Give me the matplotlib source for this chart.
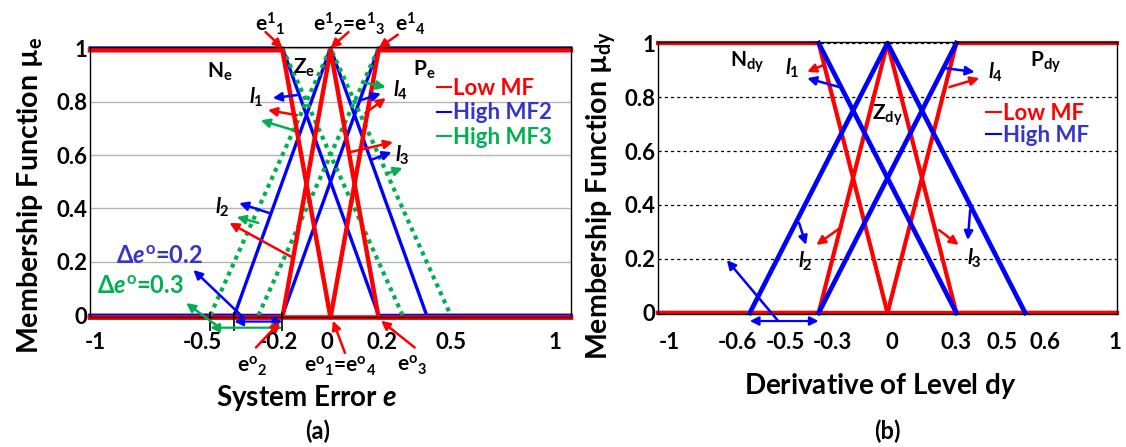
import matplotlib.pyplot as plt
from matplotlib.lines import Line2D
from matplotlib.transforms import ScaledTranslation

plt.rcParams['font.family'] = ['Lato', 'DejaVu Sans']
plt.rcParams['font.weight'] = 'bold'
plt.rcParams['axes.labelweight'] = 'bold'
plt.rcParams['mathtext.fontset'] = 'custom'
plt.rcParams['mathtext.rm'] = 'Lato:bold'
plt.rcParams['mathtext.it'] = 'Lato:bold:italic'
plt.rcParams['mathtext.bf'] = 'Lato:bold'

RED = '#FF0000'
BLUE = '#0000FF'
GREEN = '#00B050'
BLUE_TXT = '#3535C8'

# membership values at the breakpoints (N, Z, P shapes)
n_mu = [1, 1, 0, 0]
z_mu = [0, 0, 1, 0, 0]
p_mu = [0, 0, 1, 1]

# (a) system error e, breakpoints
e_low_N = [-1, -0.2, 0, 1]
e_low_Z = [-1, -0.2, 0, 0.2, 1]
e_low_P = [-1, 0, 0.2, 1]
e_high2_N = [-1, -0.2, 0.2, 1]
e_high2_Z = [-1, -0.4, 0, 0.4, 1]
e_high2_P = [-1, -0.2, 0.2, 1]
e_high3_N = [-1, -0.2, 0.3, 1]
e_high3_Z = [-1, -0.5, 0, 0.5, 1]
e_high3_P = [-1, -0.3, 0.2, 1]

# (b) derivative of level dy, breakpoints
dy_low_N = [-1, -0.3, 0, 1]
dy_low_Z = [-1, -0.3, 0, 0.3, 1]
dy_low_P = [-1, 0, 0.3, 1]
dy_high_N = [-1, -0.3, 0.3, 1]
dy_high_Z = [-1, -0.6, 0, 0.6, 1]
dy_high_P = [-1, -0.3, 0.3, 1]

y_ticks = [0, 0.2, 0.4, 0.6, 0.8, 1]
y_labels = ['0', '0.2', '0.4', '0.6', '0.8', '1']
e_ticks = [-1, -0.5, -0.2, 0, 0.2, 0.5, 1]
e_labels = ['-1', '-0.5', '-0.2', '0', '0.2', '0.5', '1']
dy_ticks = [-1, -0.6, -0.5, -0.3, 0, 0.3, 0.5, 0.6, 1]
dy_labels = ['-1', '-0.6', '-0.5', '-0.3', '0', '0.3', '0.5', '0.6', '1']
grid_x = [-0.5, 0, 0.5]

fig = plt.figure(figsize=(11.26, 4.47), dpi=100)
ax1 = fig.add_axes([90 / 1126, 1 - 317 / 447, 481 / 1126, 270 / 447])
ax2 = fig.add_axes([658 / 1126, 1 - 314 / 447, 459 / 1126, 272 / 447])


def arrow(ax, tail, head, color, style='-|>', lw=1.8):
    ax.annotate('', xy=head, xytext=tail, annotation_clip=False,
                arrowprops=dict(arrowstyle=style, color=color, lw=lw,
                                mutation_scale=13, shrinkA=0, shrinkB=0))


def label(ax, x, y, s, size=15, color='black'):
    ax.text(x, y, s, fontsize=size, color=color, fontweight='bold',
            ha='center', va='center')


def setup(ax, xticks, xlabels, ylim, grid_style, pad):
    ax.set_xlim(-1, 1)
    ax.set_ylim(*ylim)
    ax.set_xticks(xticks, xlabels, fontweight='bold')
    ax.set_xticks(grid_x, minor=True)
    ax.set_yticks(y_ticks, y_labels, fontweight='bold')
    ax.tick_params(which='both', length=0, labelsize=16)
    ax.tick_params(axis='x', pad=pad)
    ax.tick_params(axis='y', pad=2)
    ax.grid(axis='x', which='minor', **grid_style)
    ax.grid(axis='y', which='major', **grid_style)
    ax.set_axisbelow(True)
    for s in ax.spines.values():
        s.set_linewidth(1.0)


# ---------------- (a) ----------------
setup(ax1, e_ticks, e_labels, (-0.006, 1.004),
      dict(color='#b4b4b4', lw=1.0, ls='-'), 11)

# red drawn a touch lower, so the blue edge shows above it as in the original
red_shift = ax1.transData + ScaledTranslation(0, -0.022, fig.dpi_scale_trans)

ax1.plot(e_high2_N, n_mu, color=BLUE, lw=2.4, clip_on=False)
ax1.plot(e_high2_Z, z_mu, color=BLUE, lw=2.4, clip_on=False)
ax1.plot(e_high2_P, p_mu, color=BLUE, lw=2.4, clip_on=False)
# dotted High MF3: only the sloped parts show (flat parts sit under the others)
for xs, ys in [(e_high3_N, n_mu), (e_high3_Z, z_mu), (e_high3_P, p_mu)]:
    ax1.plot(xs[1:-1], ys[1:-1], color=GREEN, lw=3.0, ls=(0, (1, 1.1)),
             clip_on=False)
for xs, ys in [(e_low_N, n_mu), (e_low_Z, z_mu), (e_low_P, p_mu)]:
    ax1.plot(xs, ys, color=RED, lw=3.2, clip_on=False, transform=red_shift)

ax1.legend(handles=[Line2D([], [], color=RED, lw=1.5),
                    Line2D([], [], color=BLUE, lw=1.5),
                    Line2D([], [], color=GREEN, lw=1.5)],
           labels=['Low MF', 'High MF2', 'High MF3'],
           labelcolor=[RED, BLUE_TXT, GREEN], loc='upper left',
           bbox_to_anchor=(0.721, 0.885), frameon=False,
           prop=dict(size=16, weight='bold'),
           handlelength=0.65, handletextpad=0.1, labelspacing=0.15,
           borderpad=0, borderaxespad=0)

label(ax1, -0.46, 0.91, 'N$_\\mathrm{e}$')
label(ax1, -0.11, 0.925, 'Z$_\\mathrm{e}$')
label(ax1, 0.39, 0.92, 'P$_\\mathrm{e}$')

label(ax1, -0.25, 1.09, 'e$^{1}{}_{1}$')
label(ax1, 0.075, 1.09, 'e$^{1}{}_{2}$=e$^{1}{}_{3}$')
label(ax1, 0.33, 1.09, 'e$^{1}{}_{4}$')
arrow(ax1, (-0.27, 1.06), (e_low_N[1], 1), RED)
arrow(ax1, (0.075, 1.06), (e_low_Z[2], 1), RED)
arrow(ax1, (0.28, 1.05), (e_low_P[2], 1), RED)

label(ax1, -0.31, 0.815, '$l_{1}$')
arrow(ax1, (-0.14, 0.824), (-0.24, 0.813), BLUE)
arrow(ax1, (-0.14, 0.749), (-0.26, 0.768), RED)
arrow(ax1, (-0.155, 0.693), (-0.29, 0.73), GREEN)

label(ax1, 0.29, 0.843, '$l_{4}$')
arrow(ax1, (0.13, 0.873), (0.23, 0.854), GREEN)
arrow(ax1, (0.13, 0.806), (0.21, 0.83), BLUE)
arrow(ax1, (0.145, 0.757), (0.23, 0.813), RED)

label(ax1, 0.30, 0.60, '$l_{3}$')
arrow(ax1, (0.083, 0.611), (0.26, 0.648), RED)
arrow(ax1, (0.167, 0.581), (0.254, 0.611), BLUE)
arrow(ax1, (0.24, 0.532), (0.30, 0.551), GREEN)

label(ax1, -0.45, 0.406, '$l_{2}$')
arrow(ax1, (-0.255, 0.383), (-0.38, 0.42), BLUE)
arrow(ax1, (-0.30, 0.346), (-0.39, 0.368), GREEN)
arrow(ax1, (-0.155, 0.215), (-0.42, 0.346), RED)

label(ax1, -0.71, 0.22, '\u0394$e^{\\mathrm{o}}$=0.2', size=17, color=BLUE_TXT)
arrow(ax1, (-0.36, -0.01), (-0.57, 0.17), BLUE)
label(ax1, -0.79, 0.107, '\u0394$e^{\\mathrm{o}}$=0.3', size=17, color=GREEN)
arrow(ax1, (-0.47, -0.04), (-0.60, 0.046), GREEN)

ax1.vlines([e_high3_Z[1], e_high2_Z[1], e_low_Z[1]], -0.06, 0.014,
           color='black', lw=1.2, clip_on=False)
arrow(ax1, (e_high2_Z[1], -0.023), (e_low_Z[1], -0.023), BLUE, style='<|-|>', lw=1.6)
arrow(ax1, (e_high3_Z[1], -0.046), (e_low_Z[1], -0.046), GREEN, style='<|-|>', lw=1.6)

label(ax1, -0.325, -0.19, 'e$^{\\mathrm{o}}{}_{2}$')
arrow(ax1, (-0.31, -0.12), (-0.21, -0.025), RED)
label(ax1, 0.04, -0.19, 'e$^{\\mathrm{o}}{}_{1}$=e$^{\\mathrm{o}}{}_{4}$')
arrow(ax1, (0.06, -0.14), (0.01, -0.02), RED)
label(ax1, 0.34, -0.185, 'e$^{\\mathrm{o}}{}_{3}$')
arrow(ax1, (0.35, -0.12), (0.21, -0.02), RED)

ax1.set_xlabel('System Error $e$', fontsize=20)
ax1.xaxis.set_label_coords(0.45, -0.245)
ax1.set_ylabel('Membership Function \u00b5$_\\mathrm{e}$', fontsize=20.5)
ax1.yaxis.set_label_coords(-0.094, 0.452)

# ---------------- (b) ----------------
setup(ax2, dy_ticks, dy_labels, (-0.004, 1.004),
      dict(color='black', lw=0.9, ls=(0, (2.5, 2.5))), 13)

for xs, ys in [(dy_low_N, n_mu), (dy_low_Z, z_mu), (dy_low_P, p_mu)]:
    ax2.plot(xs, ys, color=RED, lw=3.0, clip_on=False)
for xs, ys in [(dy_high_N, n_mu), (dy_high_Z, z_mu), (dy_high_P, p_mu)]:
    ax2.plot(xs[1:-1], ys[1:-1], color=BLUE, lw=3.4, clip_on=False)

ax2.legend(handles=[Line2D([], [], color=RED, lw=1.5),
                    Line2D([], [], color=BLUE, lw=1.5)],
           labels=['Low MF', 'High MF'], labelcolor=[RED, BLUE_TXT],
           loc='upper left', bbox_to_anchor=(0.715, 0.775), frameon=False,
           prop=dict(size=16, weight='bold'), handlelength=0.65,
           handletextpad=0.1, labelspacing=0.02, borderpad=0, borderaxespad=0)

label(ax2, -0.61, 0.93, 'N$_\\mathrm{dy}$')
label(ax2, 0.69, 0.93, 'P$_\\mathrm{dy}$')
label(ax2, 0.0, 0.733, 'Z$_\\mathrm{dy}$')

label(ax2, -0.415, 0.906, '$l_{1}$')
arrow(ax2, (-0.28, 0.918), (-0.35, 0.893), RED)
arrow(ax2, (-0.21, 0.837), (-0.35, 0.87), BLUE)
label(ax2, 0.47, 0.893, '$l_{4}$')
arrow(ax2, (0.25, 0.907), (0.38, 0.893), BLUE)
arrow(ax2, (0.27, 0.837), (0.40, 0.87), RED)
label(ax2, -0.36, 0.19, '$l_{2}$')
arrow(ax2, (-0.385, 0.333), (-0.355, 0.252), BLUE)
arrow(ax2, (-0.20, 0.319), (-0.31, 0.252), RED)
label(ax2, 0.38, 0.204, '$l_{3}$')
arrow(ax2, (0.225, 0.307), (0.31, 0.252), RED)
arrow(ax2, (0.36, 0.38), (0.35, 0.27), BLUE)

arrow(ax2, (-0.48, -0.026), (-0.70, 0.196), BLUE)
arrow(ax2, (dy_high_Z[1], -0.03), (dy_low_Z[1], -0.03), BLUE, style='<|-|>', lw=1.6)

ax2.set_xlabel('Derivative of Level d$y$', fontsize=20)
ax2.xaxis.set_label_coords(0.484, -0.21)
ax2.set_ylabel('Membership Function \u00b5$_\\mathrm{dy}$', fontsize=20.5)
ax2.yaxis.set_label_coords(-0.087, 0.4375)

fig.text(318 / 1126, 0.036, '(a)', fontsize=17, fontweight='bold',
         ha='center', va='center')
fig.text(887 / 1126, 0.036, '(b)', fontsize=17, fontweight='bold',
         ha='center', va='center')

# hand-placed tick label nudges (pixels) as in the original figure
e_shift = [5, -8, -4, -4, 3, 0, -16]
dy_shift = [11, -12, 13, 14, 4, 0, 0, 20, -2]
for ax, shifts in [(ax1, e_shift), (ax2, dy_shift)]:
    for lab, dx in zip(ax.get_xticklabels(), shifts):
        lab.set_transform(lab.get_transform() +
                          ScaledTranslation(dx / 100, 0, fig.dpi_scale_trans))

fig.savefig('out.png', dpi=100)
